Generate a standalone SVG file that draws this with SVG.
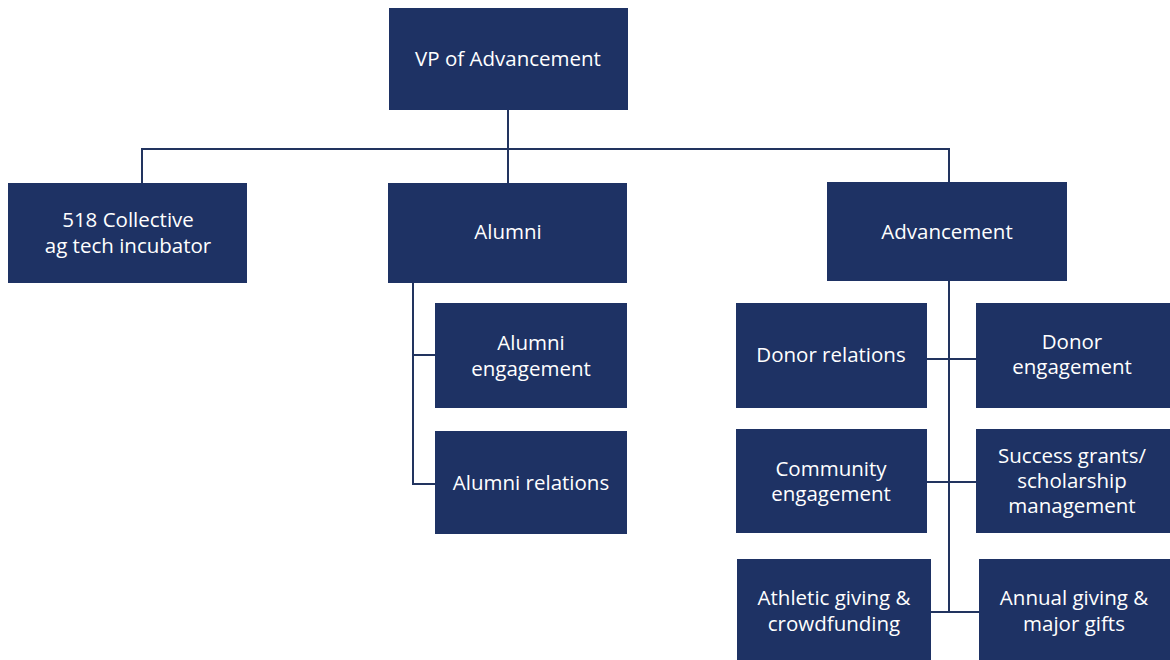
<svg xmlns="http://www.w3.org/2000/svg" width="1170" height="660" viewBox="0 0 1170 660">
<style>
.box{fill:#1e3264}
.t{font-family:"Open Sans","Noto Sans","Liberation Sans",sans-serif;font-size:20.5px;font-weight:500;fill:#ffffff;text-anchor:middle}
.c{stroke:#22345f;stroke-width:2;fill:none}
</style>
<rect width="1170" height="660" fill="#ffffff"/>
<g id="connectors">
<path class="c" d="M508 110V183M142 183V149H949V182"/>
<path class="c" d="M413 283V484H435M413 355H435"/>
<path class="c" d="M949 281V612M927 359H976M927 482H976M931 612H979"/>
</g>
<g id="vp"><rect class="box" x="389" y="8" width="239" height="102"/><text class="t" x="508" y="66">VP of Advancement</text></g>
<g id="collective"><rect class="box" x="8" y="183" width="239" height="100"/><text class="t" x="128" y="227">518 Collective</text><text class="t" x="128" y="253">ag tech incubator</text></g>
<g id="alumni"><rect class="box" x="388" y="183" width="239" height="100"/><text class="t" x="508" y="239">Alumni</text></g>
<g id="alumni-engagement"><rect class="box" x="435" y="303" width="192" height="105"/><text class="t" x="531" y="350">Alumni</text><text class="t" x="531" y="376">engagement</text></g>
<g id="alumni-relations"><rect class="box" x="435" y="431" width="192" height="103"/><text class="t" x="531" y="490">Alumni relations</text></g>
<g id="advancement"><rect class="box" x="827" y="182" width="240" height="99"/><text class="t" x="947" y="239">Advancement</text></g>
<g id="donor-relations"><rect class="box" x="736" y="303" width="191" height="105"/><text class="t" x="831" y="362">Donor relations</text></g>
<g id="donor-engagement"><rect class="box" x="976" y="303" width="194" height="105"/><text class="t" x="1072" y="349">Donor</text><text class="t" x="1072" y="374">engagement</text></g>
<g id="community"><rect class="box" x="736" y="429" width="191" height="104"/><text class="t" x="831" y="476">Community</text><text class="t" x="831" y="501">engagement</text></g>
<g id="success"><rect class="box" x="976" y="429" width="194" height="104"/><text class="t" x="1072" y="463">Success grants/</text><text class="t" x="1072" y="488">scholarship</text><text class="t" x="1072" y="513">management</text></g>
<g id="athletic"><rect class="box" x="737" y="559" width="194" height="101"/><text class="t" x="834" y="605">Athletic giving &amp;</text><text class="t" x="834" y="631">crowdfunding</text></g>
<g id="annual"><rect class="box" x="979" y="559" width="191" height="101"/><text class="t" x="1074" y="605">Annual giving &amp;</text><text class="t" x="1074" y="631">major gifts</text></g>
</svg>
